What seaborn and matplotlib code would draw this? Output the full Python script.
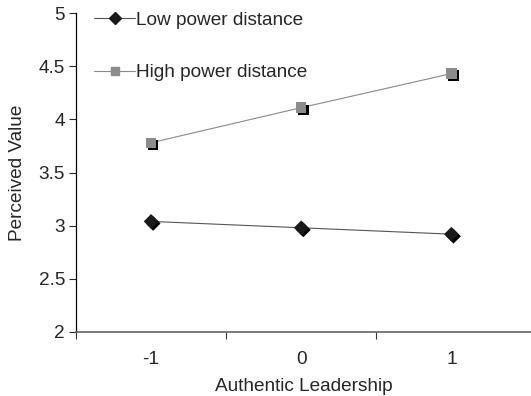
import pandas as pd
import seaborn as sns
import matplotlib.pyplot as plt
import matplotlib.patheffects as pe
from matplotlib.lines import Line2D

categories = ['-1', '0', '1']
low_pd = [3.04, 2.98, 2.92]
high_pd = [3.78, 4.11, 4.43]
series_names = ['Low power distance', 'High power distance']

df = pd.DataFrame({
    'x': list(range(len(categories))) * 2,
    'value': low_pd + high_pd,
    'group': [series_names[0]] * 3 + [series_names[1]] * 3,
})

sns.set_style('white')
plt.rcParams['font.family'] = ['Liberation Sans', 'DejaVu Sans']
fs = 13.7

fig = plt.figure(figsize=(5.31, 3.96), dpi=100)
ax = fig.add_axes([76 / 531, 1 - 332 / 396, 1 - 76 / 531, (332 - 13) / 396])

line_cols = {series_names[0]: '#555555', series_names[1]: '#8a8a8a'}
mk = {series_names[0]: ('D', '#1a1a1a', 7.5), series_names[1]: ('s', '#8c8c8c', 7.5)}

for name in series_names:
    d = df[df.group == name]
    sns.lineplot(data=d, x='x', y='value', color=line_cols[name], lw=0.8, ax=ax, legend=False)
    m, c, s = mk[name]
    sc = ax.scatter(d.x, d.value, marker=m, s=s ** 2, color=c, zorder=5, linewidths=0)
    sc.set_path_effects([pe.SimplePatchShadow(offset=(1.5, -1.5), shadow_rgbFace='black', alpha=1), pe.Normal()])

handles = [Line2D([], [], color=line_cols[n], lw=0.8, marker=mk[n][0], markersize=mk[n][2] - 1.5,
                  markerfacecolor=mk[n][1], markeredgecolor=mk[n][1]) for n in series_names]
ax.legend(handles, series_names, loc='upper left', bbox_to_anchor=(0.04, 1.005), frameon=False,
          borderaxespad=0, borderpad=0,
          fontsize=fs, labelspacing=1.86, handlelength=2.15, handletextpad=0.05)

ax.set_xlim(-0.5, 2.53)
ax.set_ylim(2, 5)
ax.set_yticks([2, 2.5, 3, 3.5, 4, 4.5, 5])
ax.set_yticklabels(['2', '2.5', '3', '3.5', '4', '4.5', '5'])
ax.set_xticks(range(len(categories)))
ax.set_xticklabels(categories)
ax.set_xticks([-0.5, 0.5, 1.5], minor=True)
ax.tick_params(axis='x', which='major', length=0, pad=14, labelsize=fs)
ax.tick_params(axis='x', which='minor', length=5, width=0.8, direction='out', bottom=True, color='#333333')
ax.tick_params(axis='y', length=5, width=0.8, direction='out', left=True, labelsize=fs, pad=3)

sns.despine(ax=ax)
ax.spines['left'].set_color('black')
ax.spines['left'].set_linewidth(0.9)
ax.spines['bottom'].set_color('#666666')
ax.spines['bottom'].set_linewidth(1.2)

ax.set_xlabel('Authentic Leadership', fontsize=fs, labelpad=7)
ax.set_ylabel('Perceived Value', fontsize=fs, labelpad=9)

fig.savefig('out.png', dpi=100)
